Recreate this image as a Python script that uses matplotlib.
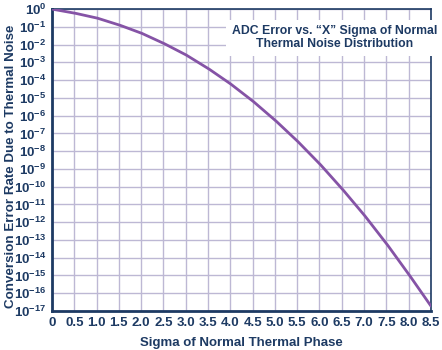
import matplotlib.pyplot as plt
import numpy as np

# значения
sigma = [0.0, 0.5, 1.0, 1.5, 2.0, 2.5, 3.0, 3.5, 4.0, 4.5, 5.0, 5.5, 6.0, 6.5, 7.0, 7.5, 8.0, 8.5]
error_rate = [1.0, 0.6, 0.32, 0.13, 0.045, 0.012, 2.7e-3, 4.6e-4, 6.3e-5, 6.8e-6, 5.7e-7,
              3.8e-8, 2.0e-9, 8.0e-11, 2.6e-12, 6.4e-14, 1.2e-15, 1.9e-17]

x_ticks = [0, 0.5, 1.0, 1.5, 2.0, 2.5, 3.0, 3.5, 4.0, 4.5, 5.0, 5.5, 6.0, 6.5, 7.0, 7.5, 8.0, 8.5]
x_tick_labels = ['0', '0.5', '1.0', '1.5', '2.0', '2.5', '3.0', '3.5', '4.0', '4.5',
                 '5.0', '5.5', '6.0', '6.5', '7.0', '7.5', '8.0', '8.5']
y_exps = list(range(0, -18, -1))

navy = '#1d3a63'
plt.rcParams['font.family'] = ['Liberation Sans', 'DejaVu Sans']
plt.rcParams['mathtext.fontset'] = 'custom'
plt.rcParams['mathtext.rm'] = 'Liberation Sans:bold'
plt.rcParams['mathtext.it'] = 'Liberation Sans:bold'

fig = plt.figure(figsize=(4.42, 3.5), dpi=100)
ax = fig.add_axes([0.1176, 0.1114, 0.8574, 0.8626])

# сглаживание кривой в лог-пространстве
xs = np.linspace(0, 8.5, 300)
ys = 10 ** np.interp(xs, sigma, np.log10(error_rate))
ax.plot(xs, ys, color='#8553a6', linewidth=2.0, solid_capstyle='round', zorder=3)

ax.set_yscale('log')
ax.set_xlim(0, 8.5)
ax.set_ylim(1e-17, 1)
ax.set_xticks(x_ticks)
ax.set_xticklabels(x_tick_labels)
ax.set_yticks([10.0 ** e for e in y_exps])
ax.set_yticklabels([r'$10^{%d}$' % e for e in y_exps])
ax.yaxis.set_minor_locator(plt.NullLocator())
ax.grid(True, color='#bdb8d4', linewidth=1.0)
ax.set_axisbelow(True)

ax.tick_params(length=0, colors=navy, labelsize=9.5, pad=4)
for lbl in ax.get_xticklabels():
    lbl.set_fontweight('bold')
for side in ['left', 'bottom', 'right', 'top']:
    ax.spines[side].set_color(navy)
ax.spines['left'].set_linewidth(2.0)
ax.spines['bottom'].set_linewidth(2.0)
ax.spines['right'].set_linewidth(1.2)
ax.spines['top'].set_linewidth(1.2)

ax.set_xlabel('Sigma of Normal Thermal Phase', color=navy, fontweight='bold', fontsize=9.5, labelpad=6)
ax.set_ylabel('Conversion Error Rate Due to Thermal Noise', color=navy, fontweight='bold',
              fontsize=9.6, va='center')
ax.yaxis.set_label_coords(-0.108, 0.48)

ax.text(0.745, 0.905, 'ADC Error vs. \u201cX\u201d Sigma of Normal\nThermal Noise Distribution',
        transform=ax.transAxes, ha='center', va='center', color=navy, fontweight='bold',
        fontsize=8.8, linespacing=1.15,
        bbox=dict(facecolor='white', edgecolor='none', pad=4), zorder=4)

fig.savefig('out.png', dpi=100)
